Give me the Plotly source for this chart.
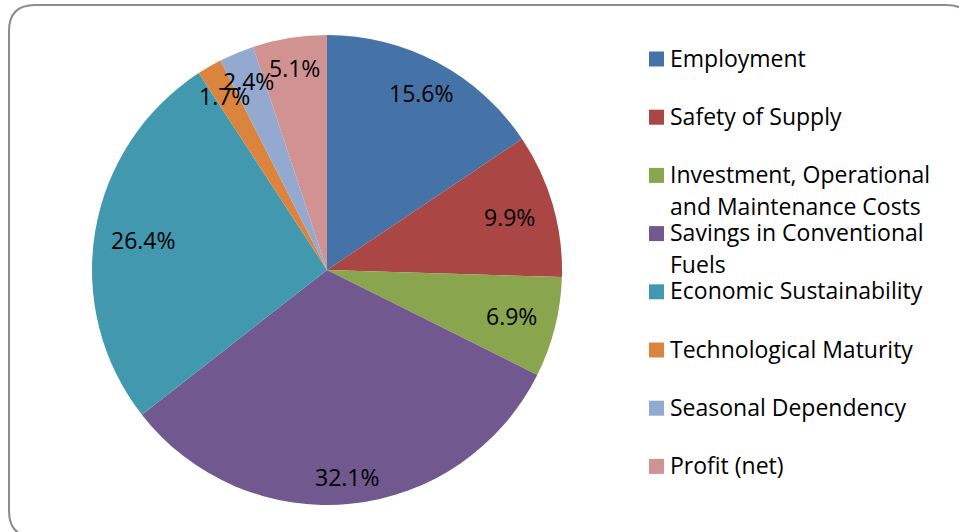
import plotly.graph_objects as go
import math

# ---- data ----
categories = [
    "Employment",
    "Safety of Supply",
    "Investment, Operational<br>and Maintenance Costs",
    "Savings in Conventional<br>Fuels",
    "Economic Sustainability",
    "Technological Maturity",
    "Seasonal Dependency",
    "Profit (net)",
]
values = [15.6, 9.9, 6.9, 32.1, 26.4, 1.7, 2.4, 5.1]
value_labels = ["15.6%", "9.9%", "6.9%", "32.1%", "26.4%", "1.7%", "2.4%", "5.1%"]

# ---- style ----
colors = ["#4572A7", "#AA4643", "#89A54E", "#71588F",
          "#4198AF", "#DB843D", "#93A9CF", "#D19392"]
W, H = 959, 532
FONT = "Open Sans"

def px(x):
    return x / W

def py(y):
    return 1 - y / H

# pie geometry (pixels)
cx, cy, R = 327, 270, 235

fig = go.Figure()
fig.add_trace(go.Pie(
    labels=categories,
    values=values,
    sort=False,
    direction="clockwise",
    rotation=0,
    marker=dict(colors=colors, line=dict(width=0)),
    textinfo="none",
    hoverinfo="label+value",
    domain=dict(x=[px(cx - R), px(cx + R)], y=[py(cy + R), py(cy - R)]),
    showlegend=False,
))

annotations = []
shapes = []

# data labels placed along the mid-angle of each slice
label_r = [0.855, 0.81, 0.81, 0.885, 0.79, 0.855, 0.87, 0.87]
label_nudge_x = [0, 0, 0, 0, 0, -2, 0, 0]
total = sum(values)
cum = 0.0
for i, v in enumerate(values):
    mid = (cum + v / 2) / total * 2 * math.pi
    cum += v
    lx = cx + label_r[i] * R * math.sin(mid) + label_nudge_x[i]
    ly = cy - label_r[i] * R * math.cos(mid)
    annotations.append(dict(
        x=px(lx), y=py(ly), xref="paper", yref="paper",
        text=value_labels[i], showarrow=False,
        xanchor="center", yanchor="middle",
        font=dict(family=FONT, size=23, color="#000000"),
    ))

# legend (manual, to match spacing)
leg_x_sq = 649
leg_sq = 15
leg_x_txt = 668
leg_y0 = 58.5
leg_step = 58.2
line_h = 32
for i, name in enumerate(categories):
    yc = leg_y0 + leg_step * i
    shapes.append(dict(
        type="rect", xref="paper", yref="paper",
        x0=px(leg_x_sq), x1=px(leg_x_sq + leg_sq),
        y0=py(yc + 0.5 + leg_sq / 2), y1=py(yc + 0.5 - leg_sq / 2),
        fillcolor=colors[i], line=dict(width=0),
    ))
    for j, line in enumerate(name.split("<br>")):
        annotations.append(dict(
            x=px(leg_x_txt), y=py(yc - 1 + j * line_h), xref="paper", yref="paper",
            text=line, showarrow=False,
            xanchor="left", yanchor="middle",
            font=dict(family=FONT, size=23, color="#000000"),
        ))

# rounded chart frame
x0, y0, x1, y1, r = 9, 5, 972, 537, 26
path = (
    f"M {px(x0 + r)},{py(y0)} L {px(x1 - r)},{py(y0)} "
    f"Q {px(x1)},{py(y0)} {px(x1)},{py(y0 + r)} "
    f"L {px(x1)},{py(y1 - r)} Q {px(x1)},{py(y1)} {px(x1 - r)},{py(y1)} "
    f"L {px(x0 + r)},{py(y1)} Q {px(x0)},{py(y1)} {px(x0)},{py(y1 - r)} "
    f"L {px(x0)},{py(y0 + r)} Q {px(x0)},{py(y0)} {px(x0 + r)},{py(y0)} Z"
)
shapes.append(dict(type="path", xref="paper", yref="paper", path=path,
                   line=dict(color="#8C8C8C", width=2), layer="below"))

fig.update_layout(
    width=W, height=H,
    margin=dict(l=0, r=0, t=0, b=0),
    paper_bgcolor="white",
    plot_bgcolor="white",
    annotations=annotations,
    shapes=shapes,
    font=dict(family=FONT),
)

fig.write_html(
    "out.html",
    config={"displayModeBar": False},
    post_script="document.body.style.margin='0';document.body.style.overflow='hidden';",
)
